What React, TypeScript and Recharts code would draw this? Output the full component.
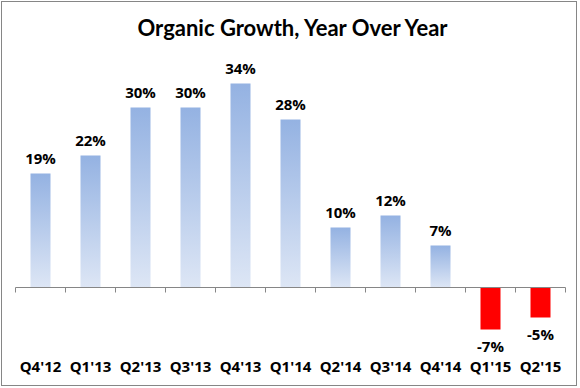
import { BarChart, Bar, XAxis, YAxis, Cell, LabelList, ReferenceLine } from 'recharts';

const quarters = ["Q4'12", "Q1'13", "Q2'13", "Q3'13", "Q4'13", "Q1'14", "Q2'14", "Q3'14", "Q4'14", "Q1'15", "Q2'15"];
const growth = [19, 22, 30, 30, 34, 28, 10, 12, 7, -7, -5];

const data = quarters.map((q, i) => ({ quarter: q, value: growth[i] }));

const FONT = 'Lato, "Open Sans", sans-serif';
const LABEL_FONT = '"Open Sans", Lato, sans-serif';

// zero line with small tick marks between categories
function ZeroAxis(props: any) {
  const { x1, y1, x2 } = props;
  const step = (x2 - x1) / quarters.length;
  return (
    <g>
      <line x1={x1} y1={y1} x2={x2} y2={y1} stroke="#868686" strokeWidth={1} />
      {Array.from({ length: quarters.length + 1 }, (_, i) => (
        <line key={i} x1={x1 + i * step} y1={y1} x2={x1 + i * step} y2={y1 + 5} stroke="#868686" strokeWidth={1} />
      ))}
    </g>
  );
}

function ValueLabel(props: any) {
  const { x, y, width, height, value } = props;
  const top = Math.min(y, y + height);
  const bottom = Math.max(y, y + height);
  const cx = x + width / 2;
  const ty = value >= 0 ? top - 10 : bottom + 22;
  return (
    <text x={cx} y={ty} textAnchor="middle" fontFamily={LABEL_FONT} fontWeight="bold" fontSize={15} fill="#000">
      {`${value}%`}
    </text>
  );
}

export default function App() {
  return (
    <div style={{ position: 'absolute', left: 0, top: 0, width: 580, height: 388, background: '#fff' }}>
      <div
        style={{
          position: 'absolute', left: 1, top: 1, width: 576, height: 385,
          border: '1px solid #868686', boxSizing: 'border-box',
        }}
      />
      <div
        style={{
          position: 'absolute', left: 0, top: 14, width: 585, textAlign: 'center',
          fontFamily: FONT, fontWeight: 'bold', fontSize: 22, color: '#000',
        }}
      >
        Organic Growth, Year Over Year
      </div>
      <BarChart
        width={580}
        height={388}
        data={data}
        margin={{ top: 47.5, right: 14.5, bottom: 0, left: 15.5 }}
        barCategoryGap="60%"
      >
        <defs>
          <linearGradient id="blueGrad" x1="0" y1="0" x2="0" y2="1">
            <stop offset="0%" stopColor="#94B2E2" />
            <stop offset="100%" stopColor="#DDE6F5" />
          </linearGradient>
        </defs>
        <XAxis
          dataKey="quarter"
          height={40.5}
          axisLine={false}
          tickLine={false}
          tickMargin={8}
          interval={0}
          tick={{ fill: '#000', fontFamily: LABEL_FONT, fontWeight: 'bold', fontSize: 15 }}
        />
        <YAxis hide domain={[-10, 40]} />
        <ReferenceLine y={0} shape={ZeroAxis} />
        <Bar dataKey="value" barSize={20} isAnimationActive={false}>
          {data.map((d, i) => (
            <Cell key={i} fill={d.value >= 0 ? 'url(#blueGrad)' : '#FF0000'} />
          ))}
          <LabelList dataKey="value" content={ValueLabel} />
        </Bar>
      </BarChart>
    </div>
  );
}
